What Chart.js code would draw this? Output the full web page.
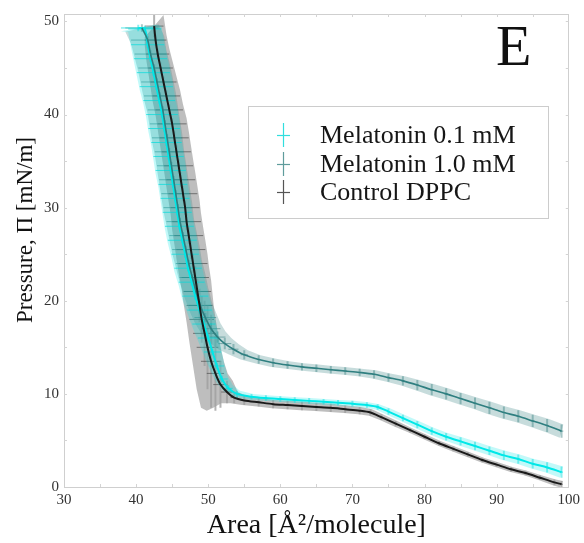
<!DOCTYPE html>
<html><head><meta charset="utf-8">
<script src="https://cdn.jsdelivr.net/npm/chart.js@4.4.0/dist/chart.umd.min.js"></script>
<style>html,body{margin:0;padding:0;background:#fff;} canvas{display:block;}</style>
</head><body>
<canvas id="c" width="584" height="543"></canvas>
<script>
// ---- text ----
const seriesLabels = ['Melatonin 0.1 mM', 'Melatonin 1.0 mM', 'Control DPPC'];
const panelLabel = 'E';
const xTitle = 'Area [Å²/molecule]';
const yTitle = 'Pressure, Π [mN/m]';
const xTicks = [30, 40, 50, 60, 70, 80, 90, 100];
const yTicks = [0, 10, 20, 30, 40, 50];

// ---- Melatonin 0.1 mM ----
const mel01Area = [40.3,41.2,41.6,42.0,42.4,42.8,43.2,43.6,43.9,44.2,44.5,44.8,45.1,45.4,45.7,46.0,46.4,46.8,47.2,47.7,48.2,48.8,49.4,50.0,50.6,51.2,51.9,52.8,54,56,58,60,62,64,66,68,70,72,73.5,75,77,79,81,83,85,87,89,91,93,95,97,99];
const mel01Pres = [49.3,49.2,47.5,46,44.5,43,41.5,40,38.5,37,35.5,34,32.5,31,29.5,28,26.5,25,23.5,22,20.5,19,17.5,16,14.5,13,11.6,10.6,10.0,9.7,9.55,9.45,9.35,9.25,9.15,9.05,8.95,8.8,8.6,8.1,7.4,6.7,6.0,5.4,4.9,4.4,3.9,3.4,3.0,2.5,2.1,1.6];
const mel01ErrA = [2.4,2.3,2.3,2.3,2.3,2.3,2.2,2.2,2.2,2.1,2.1,2.1,2.0,2.0,2.0,2.0,2.0,1.9,1.9,1.8,1.8,1.7,1.6,1.4,1.2,1.0,0.8,0.6,0.4,0.3,0.2,0.2,0.2,0.2,0.2,0.2,0.2,0.2,0.2,0.2,0.2,0.2,0.2,0.2,0.2,0.2,0.2,0.2,0.2,0.2,0.2,0.2];
const mel01ErrP = [0.35,0.35,0.35,0.35,0.35,0.35,0.35,0.35,0.35,0.35,0.35,0.35,0.35,0.35,0.35,0.35,0.35,0.35,0.35,0.35,0.35,0.35,0.35,0.35,0.35,0.35,0.35,0.35,0.35,0.3,0.3,0.3,0.3,0.3,0.3,0.3,0.3,0.3,0.3,0.35,0.35,0.4,0.4,0.4,0.45,0.45,0.45,0.5,0.5,0.5,0.55,0.6];

// ---- Melatonin 1.0 mM ----
const mel10Area = [40.8,41.6,42.0,42.5,42.9,43.3,43.7,44.0,44.3,44.6,44.9,45.2,45.5,45.8,46.1,46.5,46.9,47.3,47.8,48.3,48.9,49.6,50.4,51.3,52.3,53.5,55,57,59,61,63,65,67,69,71,73,75,77,79,81,83,85,87,89,91,93,95,97,99];
const mel10Pres = [49.3,48,46.5,45,43.5,42,40.5,39,37.5,36,34.5,33,31.5,30,28.5,27,25.5,24,22.5,21,19.5,18.2,17.0,16.1,15.4,14.8,14.2,13.7,13.35,13.1,12.9,12.75,12.6,12.45,12.3,12.1,11.75,11.4,10.95,10.45,10.0,9.5,9.0,8.5,8.0,7.6,7.1,6.6,6.0];
const mel10ErrA = [2.3,2.3,2.2,2.2,2.2,2.2,2.1,2.1,2.1,2.0,2.0,2.0,2.0,2.0,1.9,1.9,1.9,1.8,1.8,1.7,1.6,1.5,1.3,1.1,0.9,0.7,0.5,0.25,0.25,0.25,0.25,0.25,0.25,0.25,0.25,0.25,0.25,0.25,0.25,0.25,0.25,0.25,0.25,0.25,0.25,0.25,0.25,0.25,0.25];
const mel10ErrP = [0.4,0.4,0.4,0.4,0.4,0.4,0.4,0.4,0.4,0.4,0.4,0.4,0.4,0.4,0.4,0.4,0.4,0.4,0.4,0.4,0.4,0.5,0.6,0.6,0.6,0.55,0.5,0.45,0.45,0.4,0.4,0.4,0.4,0.4,0.4,0.45,0.45,0.5,0.55,0.6,0.6,0.6,0.6,0.65,0.65,0.65,0.65,0.7,0.7];

// ---- Control DPPC ----
const ctrlArea = [42.5,42.7,43.0,43.4,43.8,44.2,44.6,45.0,45.3,45.6,45.9,46.2,46.5,46.8,47.0,47.3,47.6,47.9,48.2,48.5,48.8,49.1,49.5,49.9,50.4,51.0,51.7,52.6,53.6,55,57,59,61,63,65,67,69,71,72.5,74,76,78,80,82,84,86,88,90,92,94,96,98,99];
const ctrlPres = [49.5,48,46.5,45,43.5,42,40.5,39,37.5,36,34.5,33,31.5,30,28.5,27,25.5,24,22.5,21,19.5,18,16.5,15,13.5,12.2,11.0,10.2,9.6,9.3,9.1,8.9,8.8,8.7,8.6,8.5,8.35,8.2,8.0,7.5,6.8,6.1,5.4,4.7,4.1,3.5,2.9,2.4,1.9,1.5,1.0,0.5,0.3];
const ctrlErrA = [1.3,1.5,1.6,1.7,1.8,1.9,1.9,2.0,2.0,2.0,2.0,2.0,2.0,2.0,2.0,2.0,2.0,2.0,1.9,1.9,1.8,1.7,1.6,1.5,1.4,1.2,1.0,0.8,0.5,0.3,0.2,0.2,0.2,0.2,0.2,0.2,0.2,0.2,0.2,0.2,0.2,0.2,0.2,0.2,0.2,0.2,0.2,0.2,0.2,0.2,0.2,0.2,0.2];
const ctrlErrP = [1.2,0.6,0.6,0.6,0.6,0.6,0.6,0.6,0.7,0.7,0.7,0.8,0.8,0.8,0.9,0.9,1.0,1.0,1.2,1.4,1.8,2.5,3.5,4.5,5.0,4.0,2.5,1.2,0.6,0.5,0.45,0.45,0.45,0.45,0.45,0.45,0.4,0.4,0.35,0.3,0.3,0.25,0.25,0.25,0.25,0.25,0.25,0.25,0.25,0.25,0.25,0.3,0.35];

// ---- styles ----
const SERIF = "'Liberation Serif', 'DejaVu Serif', serif";
const seriesStyle = [
  { line: '#00e8e8', width: 2,   band: 'rgba(0,232,232,0.24)',  hbar: 'rgba(0,220,220,0.7)', vbar: 'rgba(0,220,220,0.45)', marker: '#30dede' },
  { line: '#2f7f80', width: 1.6, band: 'rgba(70,140,140,0.30)', hbar: 'rgba(40,120,120,0.55)', vbar: 'rgba(60,130,130,0.45)', marker: '#5f9c9c' },
  { line: '#1a1a1a', width: 2,   band: 'rgba(150,150,150,0.62)', hbar: 'rgba(70,70,70,0.65)', vbar: 'rgba(160,160,160,0.8)', marker: '#555555' }
];
const seriesData = [
  { A: mel01Area, P: mel01Pres, eA: mel01ErrA, eP: mel01ErrP },
  { A: mel10Area, P: mel10Pres, eA: mel10ErrA, eP: mel10ErrP },
  { A: ctrlArea,  P: ctrlPres,  eA: ctrlErrA,  eP: ctrlErrP }
];

const errorPlugin = {
  id: 'errorBands',
  beforeDatasetsDraw(chart) {
    const { ctx, chartArea: ca, scales: { x, y } } = chart;
    ctx.save();
    ctx.beginPath(); ctx.rect(ca.left, ca.top, ca.right - ca.left, ca.bottom - ca.top); ctx.clip();
    for (const idx of [2, 1, 0]) {
      const d = seriesData[idx], st = seriesStyle[idx];
      const n = d.A.length;
      ctx.beginPath();
      for (let i = 0; i < n; i++) {
        const px = x.getPixelForValue(d.A[i] + d.eA[i]);
        const py = y.getPixelForValue(d.P[i] + Math.min(d.eP[i], 1.2));
        if (i === 0) ctx.moveTo(px, py); else ctx.lineTo(px, py);
      }
      for (let i = n - 1; i >= 0; i--) {
        ctx.lineTo(x.getPixelForValue(d.A[i] - d.eA[i]), y.getPixelForValue(d.P[i] - d.eP[i]));
      }
      ctx.closePath();
      ctx.fillStyle = st.band; ctx.fill();
      for (let i = 0; i < n; i++) {
        const cx = x.getPixelForValue(d.A[i]), cy = y.getPixelForValue(d.P[i]);
        ctx.lineWidth = 2; ctx.strokeStyle = st.vbar;
        ctx.beginPath();
        ctx.moveTo(cx, y.getPixelForValue(d.P[i] + d.eP[i]));
        ctx.lineTo(cx, y.getPixelForValue(d.P[i] - d.eP[i]));
        ctx.stroke();
        ctx.lineWidth = 1; ctx.strokeStyle = st.hbar;
        ctx.beginPath();
        ctx.moveTo(x.getPixelForValue(d.A[i] - d.eA[i]), cy);
        ctx.lineTo(x.getPixelForValue(d.A[i] + d.eA[i]), cy);
        ctx.stroke();
      }
    }
    ctx.restore();
  },
  afterDraw(chart) {
    const { ctx, chartArea: ca, scales: { x, y } } = chart;
    ctx.save();
    ctx.strokeStyle = '#cfcfcf'; ctx.lineWidth = 1;
    ctx.strokeRect(Math.round(ca.left) + 0.5, Math.round(ca.top) + 0.5, Math.round(ca.right - ca.left) - 1, Math.round(ca.bottom - ca.top));
    ctx.strokeStyle = '#d4d4d4';
    for (let v = 35; v < 100; v += 5) {
      const px = Math.round(x.getPixelForValue(v)) + 0.5;
      ctx.beginPath(); ctx.moveTo(px, ca.bottom); ctx.lineTo(px, ca.bottom - 3); ctx.stroke();
      ctx.beginPath(); ctx.moveTo(px, ca.top); ctx.lineTo(px, ca.top + 3); ctx.stroke();
    }
    for (let v = 5; v <= 50; v += 5) {
      const py = Math.round(y.getPixelForValue(v)) + 0.5;
      ctx.beginPath(); ctx.moveTo(ca.left, py); ctx.lineTo(ca.left + 3, py); ctx.stroke();
      ctx.beginPath(); ctx.moveTo(ca.right, py); ctx.lineTo(ca.right - 3, py); ctx.stroke();
    }
    // y axis title
    ctx.save();
    ctx.translate(26, 230);
    ctx.rotate(-Math.PI / 2);
    ctx.fillStyle = '#111';
    ctx.font = '23px ' + SERIF;
    ctx.textAlign = 'center'; ctx.textBaseline = 'middle';
    ctx.fillText(yTitle, 0, 0);
    ctx.restore();
    // panel label
    ctx.fillStyle = '#111';
    ctx.font = '58px ' + SERIF;
    ctx.textAlign = 'left'; ctx.textBaseline = 'alphabetic';
    ctx.fillText(panelLabel, 496, 65);
    // legend box
    ctx.fillStyle = '#ffffff';
    ctx.fillRect(248, 106, 300, 112);
    ctx.strokeStyle = '#cccccc'; ctx.lineWidth = 1;
    ctx.strokeRect(248.5, 106.5, 300, 112);
    const rows = [143, 172, 200];
    chart.data.datasets.forEach((ds, i) => {
      const my = rows[i] - 8;
      ctx.strokeStyle = seriesStyle[i].marker; ctx.lineWidth = 1.2;
      ctx.beginPath(); ctx.moveTo(283.5, my - 12); ctx.lineTo(283.5, my + 12); ctx.stroke();
      ctx.beginPath(); ctx.moveTo(277, my + 0.5); ctx.lineTo(290, my + 0.5); ctx.stroke();
      ctx.fillStyle = '#161616';
      ctx.font = '26px ' + SERIF;
      ctx.fillText(ds.label, 320, rows[i]);
    });
    ctx.restore();
  }
};

const datasets = seriesData.map((d, i) => ({
  label: seriesLabels[i],
  data: d.A.map((a, j) => ({ x: a, y: d.P[j] })),
  showLine: true,
  borderColor: seriesStyle[i].line,
  borderWidth: seriesStyle[i].width,
  pointRadius: 0,
  tension: 0.3,
  fill: false,
  order: i === 2 ? 0 : (i === 1 ? 1 : 2)
}));

new Chart(document.getElementById('c'), {
  type: 'scatter',
  data: { datasets },
  plugins: [errorPlugin],
  options: {
    responsive: false,
    animation: false,
    layout: { padding: { left: 0, right: 12, top: 13, bottom: 0 } },
    plugins: { legend: { display: false }, tooltip: { enabled: false } },
    scales: {
      x: {
        type: 'linear', min: 30, max: 100,
        afterBuildTicks: s => { s.ticks = xTicks.map(v => ({ value: v })); },
        afterFit: s => { s.height = 56; },
        grid: { display: false, drawTicks: false }, border: { display: false },
        ticks: { color: '#333', padding: 4, maxRotation: 0, font: { family: SERIF, size: 15 } },
        title: { display: true, text: xTitle, color: '#111', padding: { top: 0, bottom: 1 }, font: { family: SERIF, size: 28 } }
      },
      y: {
        type: 'linear', min: 0, max: 50.8,
        afterBuildTicks: s => { s.ticks = yTicks.map(v => ({ value: v })); },
        afterFit: s => { s.width = 64; },
        grid: { display: false, drawTicks: false }, border: { display: false },
        ticks: { color: '#333', padding: 5, font: { family: SERIF, size: 15 } },
        title: { display: false, text: yTitle }
      }
    }
  }
});
</script>
</body></html>
